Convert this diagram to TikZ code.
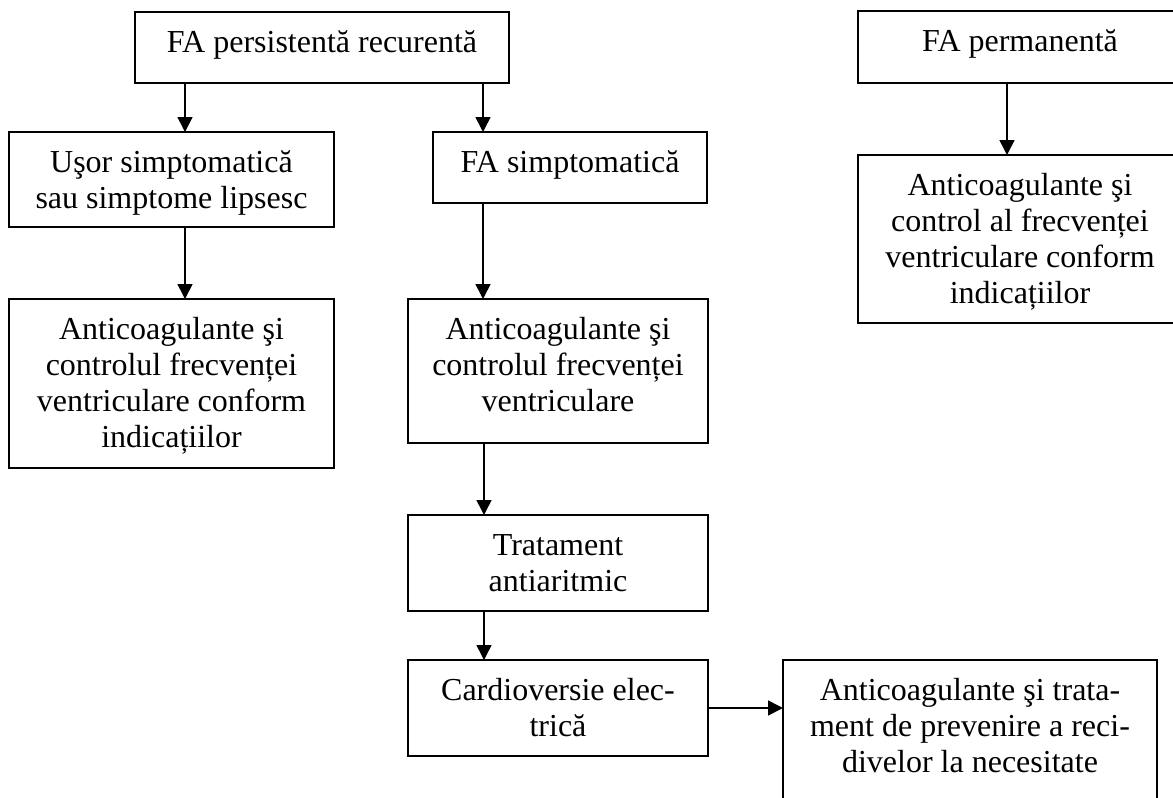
\documentclass[tikz,border=0pt]{standalone}
\usepackage{fontspec}
\setmainfont{Liberation Serif}
\usetikzlibrary{arrows.meta}

% top-aligned, centred text block of fixed size; first baseline 40pt below the top
\newcommand\boxtext[3]{\parbox[c][#2][t]{#1}{\lineskiplimit=-\maxdimen\centering\rule{0pt}{40pt}#3\par}}

\begin{document}
\begin{tikzpicture}[x=1pt,y=-1pt,
  box/.style={draw, line width=1.6pt, inner sep=0pt, outer sep=0pt, anchor=north west,
              font=\fontsize{32}{36}\selectfont},
  arr/.style={line width=1.6pt, -{Triangle[length=15pt,width=15pt]}}]
\useasboundingbox (0,0) rectangle (1173,798);
\begin{scope}
\clip (0,0) rectangle (1173,798);

\node[box] (b1) at (135,12) {\boxtext{374pt}{71pt}{FA persistentă recurentă}};
\node[box] (b2) at (858,11) {\boxtext{324pt}{72pt}{FA permanentă}};
\node[box] (b3) at (9,132) {\boxtext{325pt}{95pt}{Uşor simptomatică\\sau simptome lipsesc}};
\node[box] (b4) at (433,132) {\boxtext{274pt}{71pt}{FA simptomatică}};
\node[box] (b5) at (858,155) {\boxtext{324pt}{168pt}{Anticoagulante şi\\control al frecvenței\\ventriculare conform\\indicațiilor}};
\node[box] (b6) at (9,299) {\boxtext{325pt}{169pt}{Anticoagulante şi\\controlul frecvenței\\ventriculare conform\\indicațiilor}};
\node[box] (b7) at (408,299) {\boxtext{300pt}{144pt}{Anticoagulante şi\\controlul frecvenței\\ventriculare}};
\node[box] (b8) at (408,515) {\boxtext{300pt}{96pt}{Tratament\\antiaritmic}};
\node[box] (b9) at (408,660) {\boxtext{300pt}{96pt}{Cardioversie elec-\\trică}};
\node[box] (b10) at (783,660) {\boxtext{374pt}{160pt}{Anticoagulante şi trata-\\ment de prevenire a reci-\\divelor la necesitate}};

\draw[arr] ([xshift=50pt]b1.south west) -- ([xshift=50pt]b1.south west |- b3.north);
\draw[arr] ([xshift=348pt]b1.south west) -- ([xshift=348pt]b1.south west |- b4.north);
\draw[arr] ([xshift=149pt]b2.south west) -- ([xshift=149pt]b2.south west |- b5.north);
\draw[arr] ([xshift=176pt]b3.south west) -- ([xshift=176pt]b3.south west |- b6.north);
\draw[arr] ([xshift=50pt]b4.south west) -- ([xshift=50pt]b4.south west |- b7.north);
\draw[arr] ([xshift=76pt]b7.south west) -- ([xshift=76pt]b7.south west |- b8.north);
\draw[arr] ([xshift=76pt]b8.south west) -- ([xshift=76pt]b8.south west |- b9.north);
\draw[arr] (b9.east) -- (b9.east -| b10.west);
\end{scope}
\end{tikzpicture}
\end{document}
